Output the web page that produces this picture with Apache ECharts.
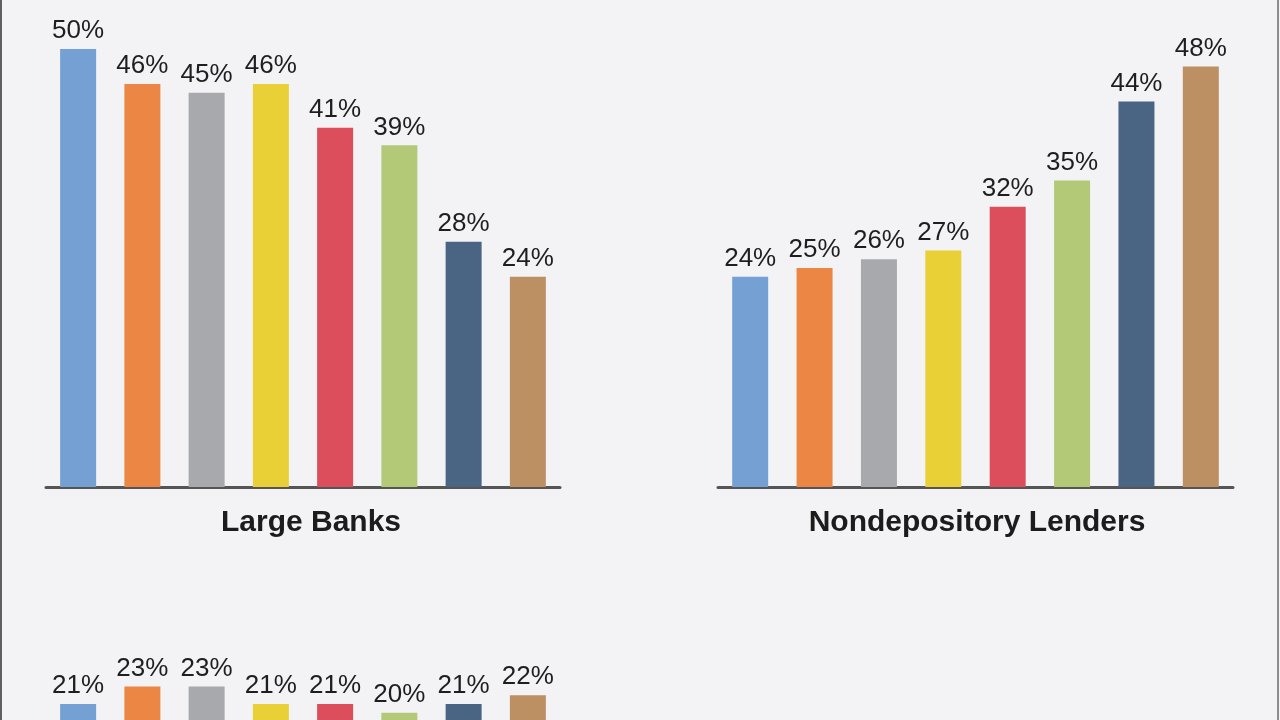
<!DOCTYPE html>
<html>
<head>
<meta charset="utf-8">
<script src="https://cdn.jsdelivr.net/npm/echarts@6/dist/echarts.min.js"></script>
<style>
html,body{margin:0;padding:0;background:#f3f3f5;overflow:hidden;}
#chart{width:1280px;height:720px;}
</style>
</head>
<body>
<div id="chart"></div>
<script>
const categories = ['Group 1','Group 2','Group 3','Group 4','Group 5','Group 6','Group 7','Group 8'];
const barColors = ['#74a0d3','#ec8644','#a7a9ac','#e8d036','#dc4e5c','#b3c977','#4a6483','#bc9063'];
const panelTitles = ['Large Banks','Nondepository Lenders'];
const largeBanks = [50,46,45,46,41,39,28,24];
const nondepositoryLenders = [24,25,26,27,32,35,44,48];
const thirdPanel = [21,23,23,21,21,20,21,22];

const chart = echarts.init(document.getElementById('chart'));
const font = '"Liberation Sans", Arial, sans-serif';

// px per percentage point, shared by all panels
const scale = 438 / 50;
// third panel: its baseline sits below the visible page (y = 888),
// so the visible part of the axis starts at the value at the page bottom.
const thirdBaseY = 888, thirdTop = 450;
const thirdMin = (thirdBaseY - 720) / scale;
const thirdMax = (thirdBaseY - thirdTop) / scale;

const grids = [
  {left:46, width:514, top:49, height:438},
  {left:718, width:515, top:49, height:438},
  {left:46, width:514, top:thirdTop, height:720 - thirdTop}
];
const datasets = [largeBanks, nondepositoryLenders, thirdPanel];
const yRanges = [[0,50],[0,50],[thirdMin, thirdMax]];

const xAxis = grids.map((g,i)=>({
  type:'category', gridIndex:i, data:categories,
  axisLine:{show:i<2, lineStyle:{color:'#555', width:3}},
  axisTick:{show:false}, axisLabel:{show:false}
}));
const yAxis = grids.map((g,i)=>({
  type:'value', gridIndex:i, min:yRanges[i][0], max:yRanges[i][1], show:false, splitLine:{show:false}
}));
const series = datasets.map((d,i)=>({
  type:'bar', xAxisIndex:i, yAxisIndex:i, barWidth:36,
  data:d.map((v,j)=>({value:v, itemStyle:{color:barColors[j]}})),
  label:{show:true, position:'top', distance:5, formatter:'{c}%',
    fontFamily:font, fontSize:26, color:'#1e1e1e'},
  animation:false
}));

chart.setOption({
  backgroundColor:'#f3f3f5',
  animation:false,
  grid:grids.map(g=>Object.assign({containLabel:false}, g)),
  xAxis, yAxis, series,
  title: panelTitles.map((t,i)=>({
    text:t, left: (i===0 ? 306 : 972), top:503, textAlign:'center',
    textStyle:{fontFamily:font, fontSize:30, fontWeight:'bold', color:'#1c1c1c'}
  })),
  graphic:[
    {type:'rect', shape:{x:0,y:0,width:2,height:720}, style:{fill:'#5f5f5f'}},
    {type:'rect', shape:{x:1277,y:0,width:2,height:720}, style:{fill:'#8c8c8c'}}
  ]
});
</script>
</body>
</html>
